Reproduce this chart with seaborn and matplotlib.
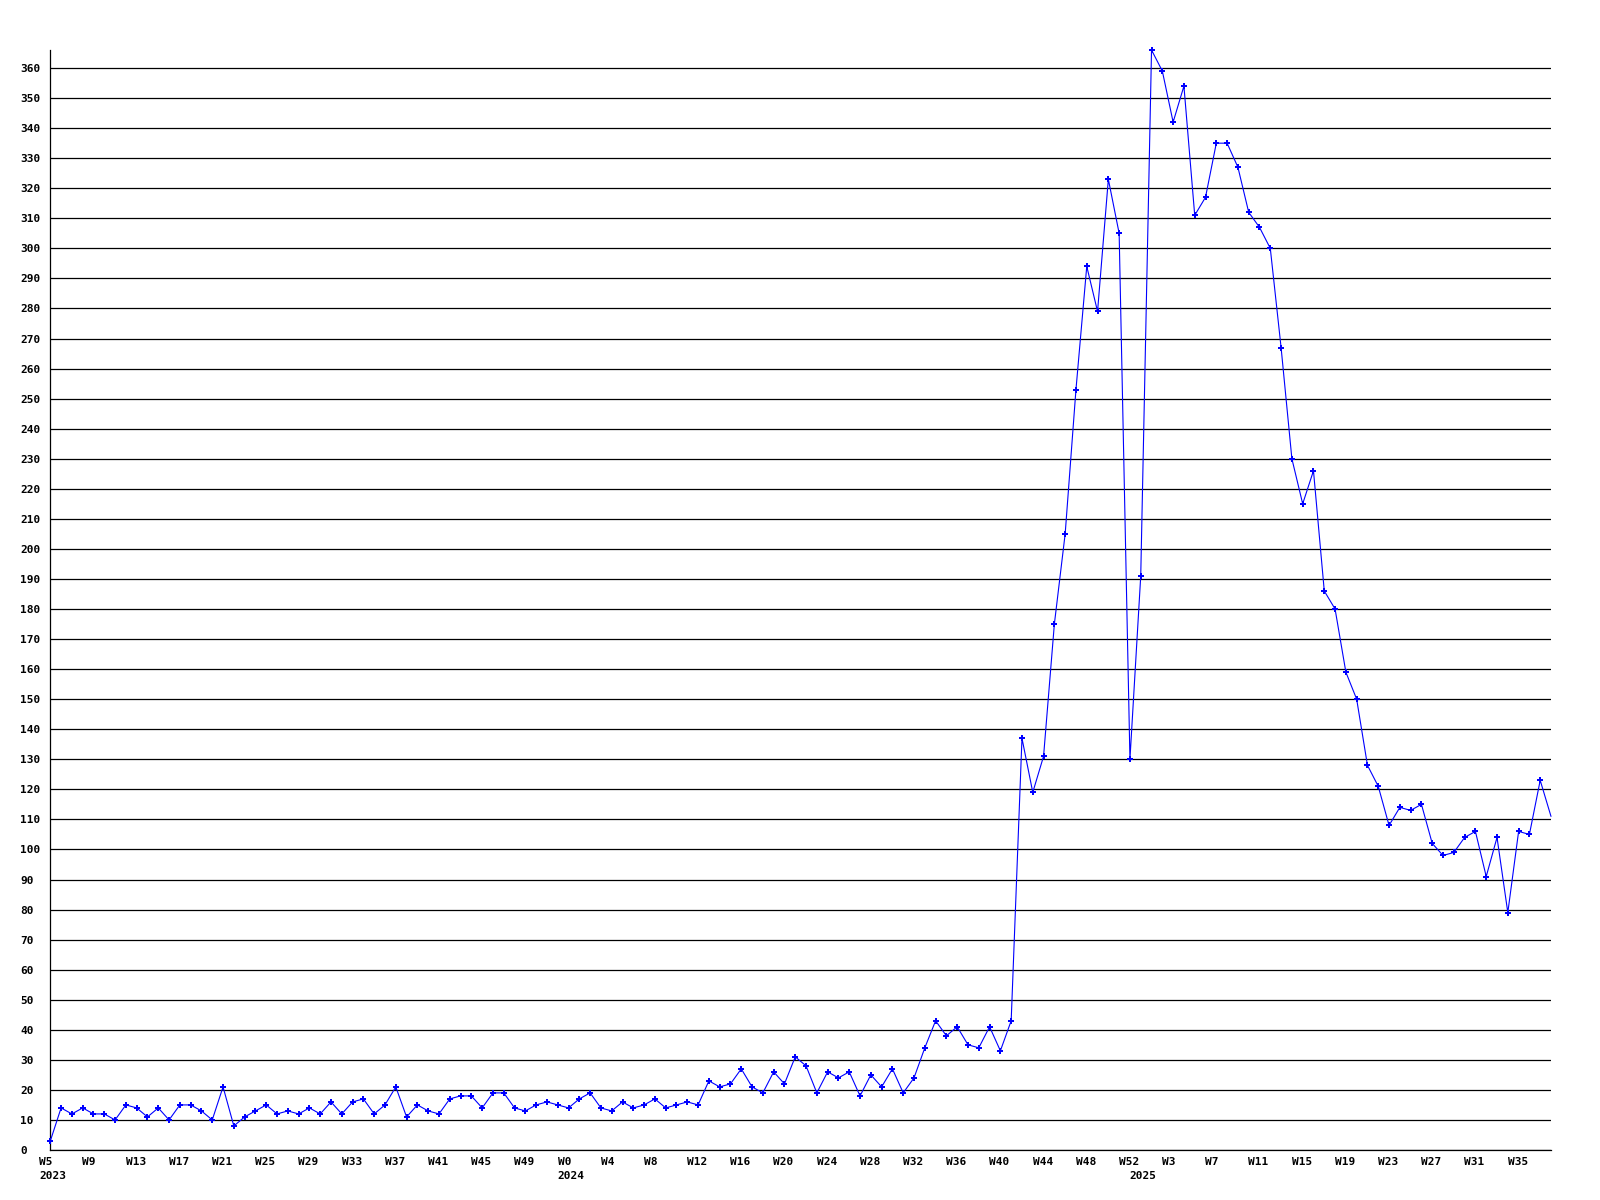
import numpy as np
import pandas as pd
import matplotlib
matplotlib.use("Agg")
import matplotlib.pyplot as plt
import matplotlib.transforms as mtransforms
import seaborn as sns

# ---- data ----
years = [2023, 2024, 2025]
first_week = [5, 0, 0]
last_week = [52, 52, 38]

values = [
    3, 14, 12, 14, 12, 12, 10, 15, 14, 11,
    14, 10, 15, 15, 13, 10, 21, 8, 11, 13,
    15, 12, 13, 12, 14, 12, 16, 12, 16, 17,
    12, 15, 21, 11, 15, 13, 12, 17, 18, 18,
    14, 19, 19, 14, 13, 15, 16, 15, 14, 17,
    19, 14, 13, 16, 14, 15, 17, 14, 15, 16,
    15, 23, 21, 22, 27, 21, 19, 26, 22, 31,
    28, 19, 26, 24, 26, 18, 25, 21, 27, 19,
    24, 34, 43, 38, 41, 35, 34, 41, 33, 43,
    137, 119, 131, 175, 205, 253, 294, 279, 323, 305,
    130, 191, 366, 359, 342, 354, 311, 317, 335, 335,
    327, 312, 307, 300, 267, 230, 215, 226, 186, 180,
    159, 150, 128, 121, 108, 114, 113, 115, 102, 98,
    99, 104, 106, 91, 104, 79, 106, 105, 123, 111,
]

week_labels = []
year_of_point = []
for yr, a, b in zip(years, first_week, last_week):
    for w in range(a, b + 1):
        week_labels.append(f"W{w}")
        year_of_point.append(yr)

y_ticks = list(range(0, 361, 10))

df = pd.DataFrame({"idx": np.arange(len(values)), "value": values,
                   "week": week_labels, "year": year_of_point})

# ---- style ----
sns.set_theme(style="white")
plt.rcParams["font.family"] = ["DejaVu Sans Mono", "DejaVu Sans"]
plt.rcParams["font.weight"] = "bold"

W, H = 1600, 1200
fig = plt.figure(figsize=(16, 12), dpi=100)
fig.patch.set_facecolor("white")
left_px, right_px, top_px, bottom_px = 50.3, 1551, 50, 1150
ax = fig.add_axes([left_px / W, 1 - bottom_px / H,
                   (right_px - left_px) / W, (bottom_px - top_px) / H])
ax.set_facecolor("white")

sns.lineplot(data=df, x="idx", y="value", ax=ax, color="#0000ff",
             linewidth=0.8, marker="P", markersize=4, markeredgewidth=0,
             markevery=list(range(len(values) - 1)), zorder=3, clip_on=False)

ax.set_xlim(0, len(values) - 1)
ax.set_ylim(0, 366)
ax.set_xlabel("")
ax.set_ylabel("")

# horizontal grid lines
ax.set_yticks(y_ticks)
ax.set_yticklabels([str(v) for v in y_ticks])
ax.yaxis.grid(True, color="black", linewidth=0.9)
ax.xaxis.grid(False)
ax.set_axisbelow(True)

for s in ["top", "right"]:
    ax.spines[s].set_visible(False)
for s in ["left", "bottom"]:
    ax.spines[s].set_color("black")
    ax.spines[s].set_linewidth(0.9)

# y tick labels: left aligned at x=20px
ax.tick_params(axis="y", length=0, pad=(left_px - 20) * 72 / 100,
               labelsize=8, labelcolor="black")
for lab in ax.get_yticklabels():
    lab.set_horizontalalignment("left")
    lab.set_fontweight("bold")

# x tick labels every 4 weeks
xt = list(range(0, len(values), 4))
ax.set_xticks(xt)
ax.set_xticklabels([week_labels[i] for i in xt])
ax.tick_params(axis="x", length=0, pad=5, labelsize=8, labelcolor="black")
shift = mtransforms.ScaledTranslation(-11 / 100, 0, fig.dpi_scale_trans)
for lab in ax.get_xticklabels():
    lab.set_horizontalalignment("left")
    lab.set_fontweight("bold")
    lab.set_transform(lab.get_transform() + shift)

# year labels at first point of each year
blend = mtransforms.blended_transform_factory(ax.transData, ax.transAxes)
yr_tr = blend + shift
for yr in years:
    i0 = year_of_point.index(yr)
    ax.text(i0, -(1176 - bottom_px) / (bottom_px - top_px), str(yr),
            transform=yr_tr, ha="left", va="center", fontsize=8,
            fontweight="bold", color="black")

fig.savefig("out.png", dpi=100, facecolor="white")
